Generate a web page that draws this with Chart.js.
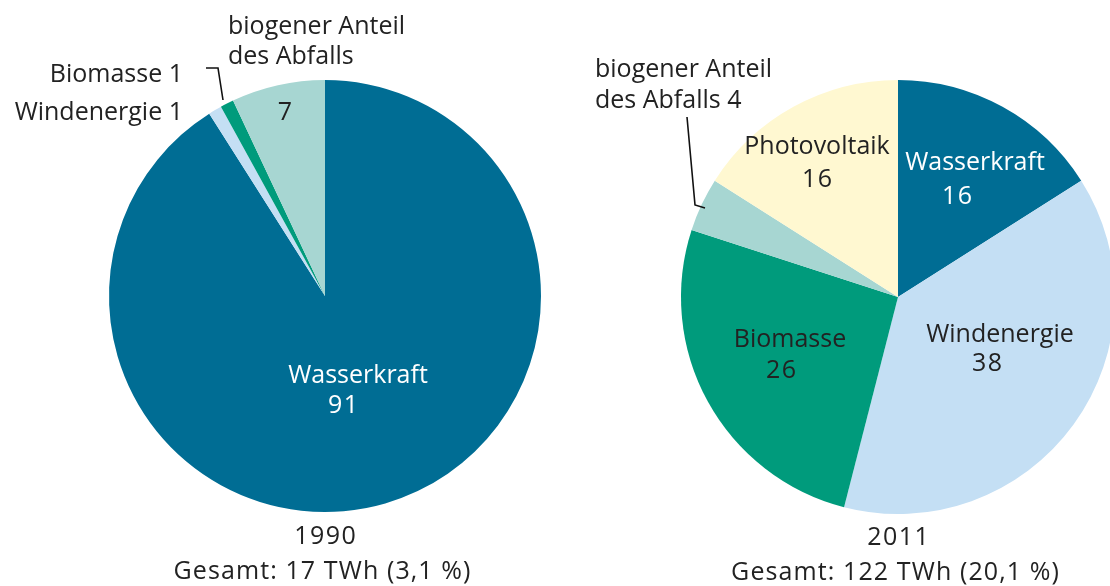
<!DOCTYPE html>
<html><head><meta charset="utf-8">
<script src="https://cdn.jsdelivr.net/npm/chart.js@4/dist/chart.umd.min.js"></script>
<style>
html,body{margin:0;padding:0;width:1110px;height:586px;overflow:hidden;background:#fff;}
.wrap{position:absolute;left:0;top:0;width:1120px;height:586px;}
</style></head>
<body>
<div class="wrap"><canvas id="c1"></canvas></div>
<div class="wrap"><canvas id="c2"></canvas></div>
<script>
// ---- data ----
const categories1990 = ['Wasserkraft', 'Windenergie', 'Biomasse', 'biogener Anteil des Abfalls'];
const values1990 = [91, 1, 1, 7];
const categories2011 = ['Wasserkraft', 'Windenergie', 'Biomasse', 'biogener Anteil des Abfalls', 'Photovoltaik'];
const values2011 = [16, 38, 26, 4, 16];
const title1990 = ['1990', 'Gesamt: 17 TWh (3,1 %)'];
const title2011 = ['2011', 'Gesamt: 122 TWh (20,1 %)'];

const colorMap = {
  'Wasserkraft': '#006d94',
  'Windenergie': '#c4dff4',
  'Biomasse': '#009b7c',
  'biogener Anteil des Abfalls': '#a7d6d2',
  'Photovoltaik': '#fff8d1'
};

const FONT = '25px "Open Sans", "Noto Sans", sans-serif';
const DARK = '#222222';

// label layout (offsets relative to pie center)
const labels1990 = [
  {lines:['Wasserkraft'], dx:33, dy:80, color:'#fff', align:'center'},
  {lines:['91'], dx:18, dy:110, color:'#fff', align:'center', ls:1.5},
  {lines:['7'], dx:-40, dy:-183, color:DARK, align:'center'},
  {lines:['Biomasse 1'], dx:-142, dy:-221, color:DARK, align:'right'},
  {lines:['Windenergie 1'], dx:-142, dy:-183, color:DARK, align:'right'},
  {lines:['biogener Anteil','des Abfalls'], dx:-97, dy:-269, color:DARK, align:'left', lh:30}
];
const leader1990 = [[-119,-228],[-107,-228],[-102,-196]];
const labels2011 = [
  {lines:['Photovoltaik'], dx:-81, dy:-150, color:DARK, align:'center'},
  {lines:['16'], dx:-81, dy:-117, color:DARK, align:'center', ls:1.5},
  {lines:['Wasserkraft'], dx:77, dy:-134, color:'#fff', align:'center'},
  {lines:['16'], dx:59, dy:-100, color:'#fff', align:'center', ls:1.5},
  {lines:['Windenergie'], dx:102, dy:38, color:DARK, align:'center'},
  {lines:['38'], dx:89, dy:67, color:DARK, align:'center', ls:1.5},
  {lines:['Biomasse'], dx:-108, dy:43, color:DARK, align:'center'},
  {lines:['26'], dx:-117, dy:74, color:DARK, align:'center', ls:1.5},
  {lines:['biogener Anteil','des Abfalls 4'], dx:-303, dy:-227, color:DARK, align:'left', lh:31}
];
const leader2011 = [[-211,-180],[-203,-92],[-193,-89]];

function drawText(ctx, t, x, y, align, ls) {
  ctx.letterSpacing = (ls || 0) + 'px';
  let shift = 0;
  if (ls) shift = align === 'center' ? ls / 2 : (align === 'right' ? ls : 0);
  ctx.textAlign = align;
  ctx.fillText(t, x + shift, y);
}

function makePlugin(labels, leader, titles) {
  return {
    id: 'labels',
    afterDraw(chart) {
      const arc = chart.getDatasetMeta(0).data[0];
      const cx = arc.x, cy = arc.y;
      const ctx = chart.ctx;
      ctx.save();
      ctx.font = FONT;
      ctx.textBaseline = 'middle';
      labels.forEach(l => {
        ctx.fillStyle = l.color;
        l.lines.forEach((t, i) => drawText(ctx, t, cx + l.dx, cy + l.dy + i * (l.lh || 30), l.align, l.ls));
      });
      ctx.fillStyle = DARK;
      drawText(ctx, titles[0], cx, cy + 241, 'center', 1.5);
      drawText(ctx, titles[1], cx - 3, cy + 276, 'center', 1.1);
      ctx.strokeStyle = '#111';
      ctx.lineWidth = 1.6;
      ctx.beginPath();
      leader.forEach((p, i) => i ? ctx.lineTo(cx + p[0], cy + p[1]) : ctx.moveTo(cx + p[0], cy + p[1]));
      ctx.stroke();
      ctx.restore();
    }
  };
}

function makeChart(id, cats, vals, pad, labels, leader, titles) {
  return new Chart(document.getElementById(id), {
    type: 'pie',
    data: {
      labels: cats,
      datasets: [{
        data: vals,
        backgroundColor: cats.map(c => colorMap[c]),
        borderWidth: 0,
        hoverOffset: 0,
        offset: 0
      }]
    },
    options: {
      responsive: true,
      maintainAspectRatio: false,
      animation: false,
      layout: {padding: pad},
      plugins: {legend: {display: false}, tooltip: {enabled: false}}
    },
    plugins: [makePlugin(labels, leader, titles)]
  });
}

makeChart('c1', categories1990, values1990, {left:109, right:579, top:80, bottom:74}, labels1990, leader1990, title1990);
makeChart('c2', categories2011, values2011, {left:681, right:5, top:80, bottom:72}, labels2011, leader2011, title2011);
</script>
</body></html>
